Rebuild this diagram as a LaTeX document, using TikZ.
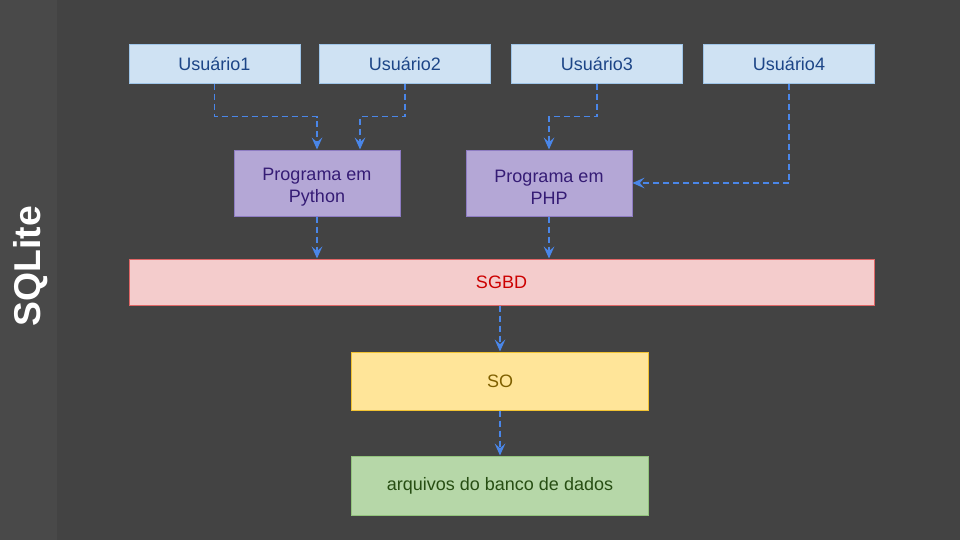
\documentclass[tikz,border=0pt]{standalone}
\usepackage{fontspec}
\setmainfont{Liberation Sans}
\usepackage{tikz}
\usetikzlibrary{positioning,calc,arrows.meta}

\definecolor{fundo}{HTML}{434343}
\definecolor{faixa}{HTML}{494949}
\definecolor{seta}{HTML}{4A86E8}
\definecolor{usuFill}{HTML}{CFE2F3}
\definecolor{usuDraw}{HTML}{9FC5E8}
\definecolor{usuText}{HTML}{1C4587}
\definecolor{progFill}{HTML}{B4A7D6}
\definecolor{progDraw}{HTML}{8E7CC3}
\definecolor{progText}{HTML}{351C75}
\definecolor{sgbdFill}{HTML}{F4CCCC}
\definecolor{sgbdDraw}{HTML}{E06666}
\definecolor{sgbdText}{HTML}{CC0000}
\definecolor{soFill}{HTML}{FFE599}
\definecolor{soDraw}{HTML}{F1C232}
\definecolor{soText}{HTML}{7F6000}
\definecolor{arqFill}{HTML}{B6D7A8}
\definecolor{arqDraw}{HTML}{93C47D}
\definecolor{arqText}{HTML}{274E13}

\tikzset{
	caixa/.style={rectangle,inner sep=0pt,line width=0.75pt,align=center,
		font=\fontsize{13.5}{16.5}\selectfont},
	usu/.style={caixa,fill=usuFill,draw=usuDraw,text=usuText,
		minimum width=128.25pt,minimum height=29.25pt},
	prog/.style={caixa,fill=progFill,draw=progDraw,text=progText,
		minimum width=124.5pt,minimum height=49.5pt},
	fluxo/.style={draw=seta,line width=1.2pt,dash pattern=on 4.5pt off 3pt,
		-{Stealth[length=9pt,width=8pt,inset=3.5pt]}}
}

\begin{document}
\begin{tikzpicture}[x=0.75pt,y=-0.75pt]
	\def\largeur{960}
	\def\hauteur{540}
\useasboundingbox (0,0) rectangle (\largeur,\hauteur);
\fill[fundo] (0,0) rectangle (\largeur,\hauteur); % fundo
\fill[faixa] (0,0) rectangle (57,\hauteur); % faixa lateral

%Titulo
\node[rotate=90,text=white,font=\fontsize{28}{30}\bfseries\selectfont] (titulo) at (31,266) {SQLite};

%Usuarios
\node[usu] (u1) at (214.5,63.5) {Usuário1};
\node[usu] (u2) at (405,63.5) {Usuário2};
\node[usu] (u3) at (597,63.5) {Usuário3};
\node[usu] (u4) at (789,63.5) {Usuário4};

%Programas
\node[prog] (py) at (317,183) {\rule{0pt}{15pt}Programa em\\Python};
\node[prog] (php) at (549,183) {\rule{0pt}{15pt}Programa em\\PHP};

%Camadas
\node[caixa,fill=sgbdFill,draw=sgbdDraw,text=sgbdText,minimum width=558.75pt,minimum height=34.5pt] (sgbd) at (501.5,282) {SGBD};
\node[caixa,fill=soFill,draw=soDraw,text=soText,minimum width=222.75pt,minimum height=43.5pt] (so) at (500,381) {SO};
\node[caixa,fill=arqFill,draw=arqDraw,text=arqText,minimum width=222.75pt,minimum height=44.25pt] (arq) at (500,485.5) {arquivos do banco de dados};

%Setas
\draw[fluxo] (u1.south) -- ++(0,33) -| (py.north);
\draw[fluxo] (u2.south) -- ++(0,33) -| ($(py.north)+(43,0)$);
\draw[fluxo] (u3.south) -- ++(0,33) -| (php.north);
\draw[fluxo] (u4.south) |- (php.east);
\draw[fluxo] (py.south) -- (py.south |- sgbd.north);
\draw[fluxo] (php.south) -- (php.south |- sgbd.north);
\draw[fluxo] (so.north |- sgbd.south) -- (so.north);
\draw[fluxo] (so.south) -- (arq.north);

\end{tikzpicture}
\end{document}
